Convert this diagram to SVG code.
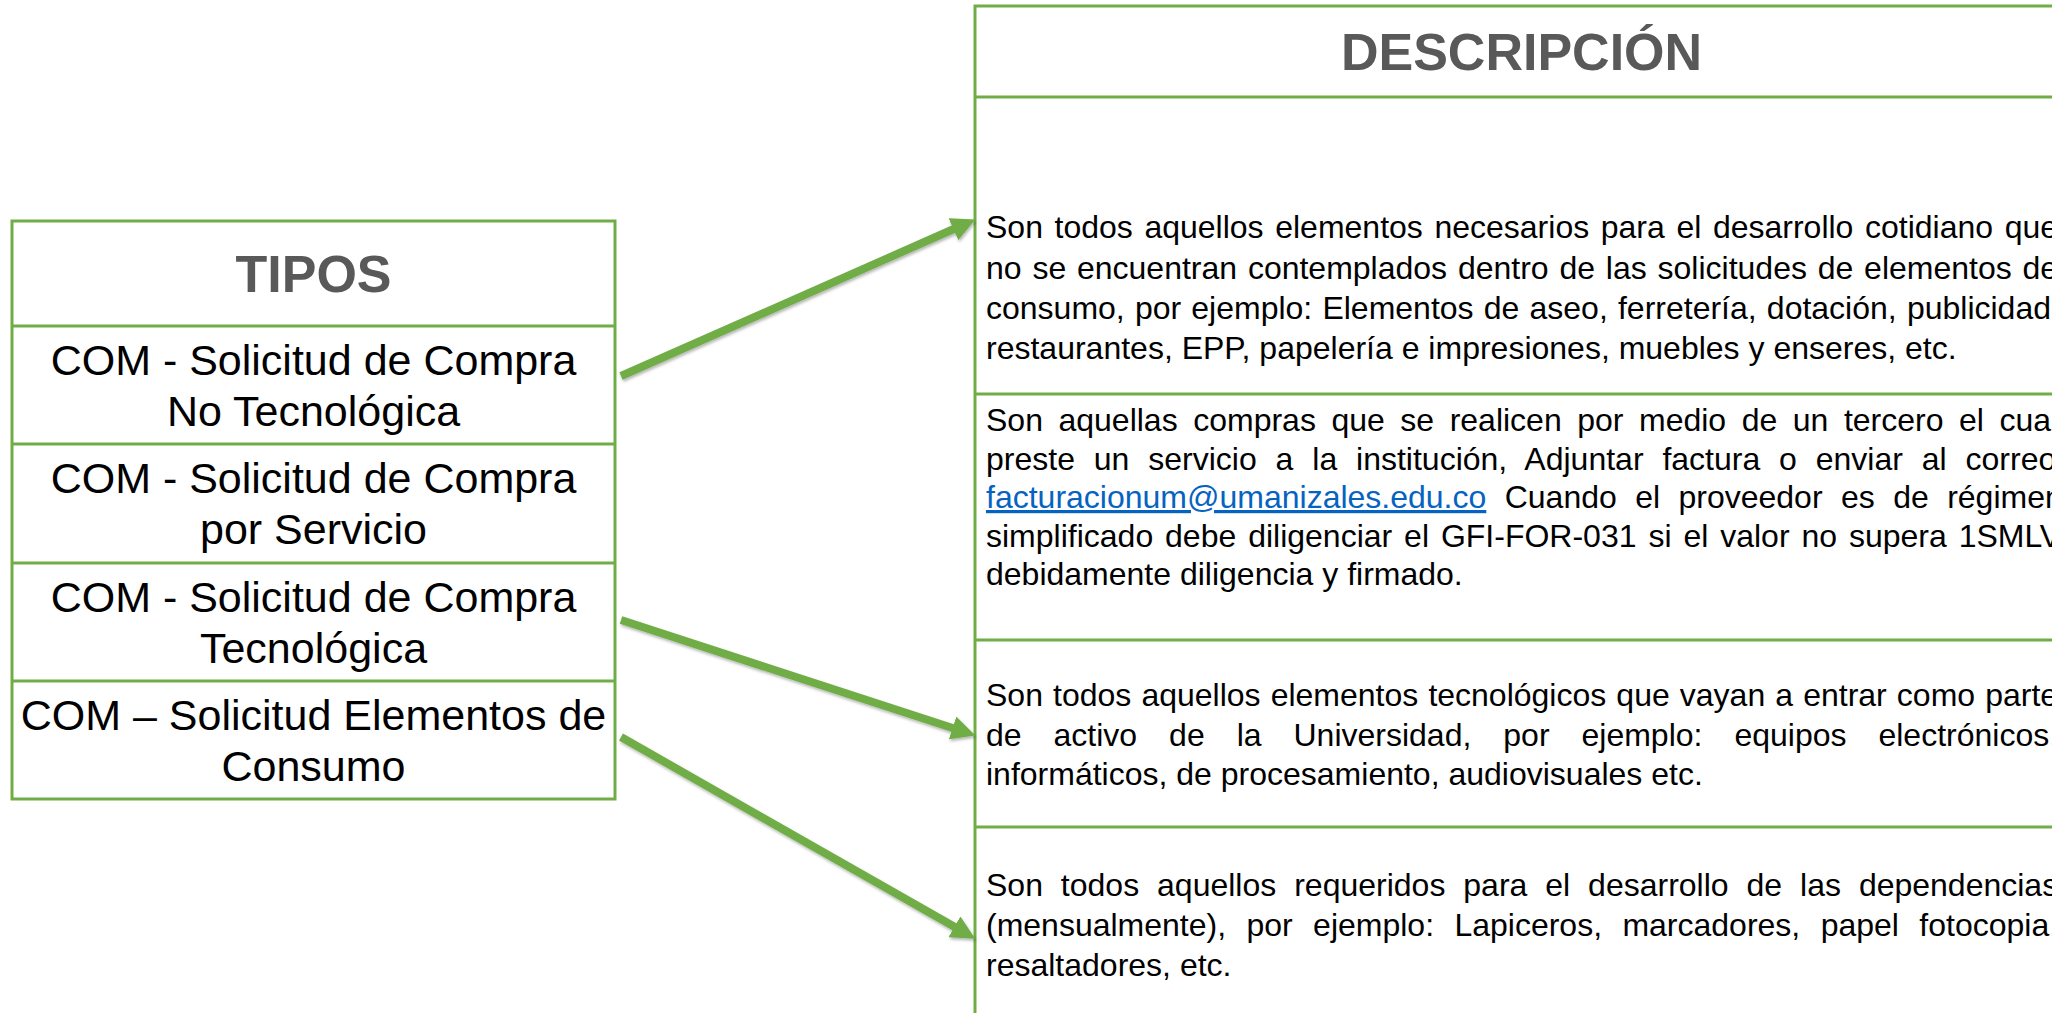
<svg xmlns="http://www.w3.org/2000/svg" width="2052" height="1013" viewBox="0 0 2052 1013">
<style>
.box{fill:none;stroke:#70AD47;stroke-width:3}
.sep{stroke:#70AD47;stroke-width:3}
.hdr{font-family:"Liberation Sans",Arial,sans-serif;font-size:52px;font-weight:bold;fill:#595959;text-anchor:middle}
.cell{font-family:"Liberation Sans",Arial,sans-serif;font-size:43px;fill:#000;text-anchor:middle}
.desc{font-family:"Liberation Sans",Arial,sans-serif;font-size:32px;fill:#000}
.link{fill:#0563C1;text-decoration:underline}
.arrow{stroke:#70AD47;stroke-width:8;fill:none;marker-end:url(#ah);filter:url(#sh)}
</style>
<defs>
<marker id="ah" markerUnits="userSpaceOnUse" markerWidth="24" markerHeight="24" refX="6" refY="11" orient="auto" viewBox="0 0 22 22">
<path d="M0,0 L22,11 L0,22 z" fill="#70AD47"/>
</marker>
<filter id="sh" x="-10%" y="-10%" width="120%" height="130%">
<feDropShadow dx="1" dy="2" stdDeviation="1.5" flood-color="#000" flood-opacity="0.3"/>
</filter>
</defs>
<rect width="2052" height="1013" fill="#ffffff"/>

<g id="tipos">
<rect class="box" x="12" y="221" width="603" height="578"/>
<line class="sep" x1="12" y1="326" x2="615" y2="326"/>
<line class="sep" x1="12" y1="444" x2="615" y2="444"/>
<line class="sep" x1="12" y1="563" x2="615" y2="563"/>
<line class="sep" x1="12" y1="681" x2="615" y2="681"/>
<text class="hdr" x="313.5" y="292">TIPOS</text>
</g>
<g id="tipo1">
<text class="cell" x="313.5" y="375">COM - Solicitud de Compra</text>
<text class="cell" x="313.5" y="426">No Tecnológica</text>
</g>
<g id="tipo2">
<text class="cell" x="313.5" y="493">COM - Solicitud de Compra</text>
<text class="cell" x="313.5" y="544">por Servicio</text>
</g>
<g id="tipo3">
<text class="cell" x="313.5" y="612">COM - Solicitud de Compra</text>
<text class="cell" x="313.5" y="663">Tecnológica</text>
</g>
<g id="tipo4">
<text class="cell" x="313.5" y="730">COM – Solicitud Elementos de</text>
<text class="cell" x="313.5" y="781">Consumo</text>
</g>

<g id="descripcion">
<rect class="box" x="975" y="6" width="1093" height="1030"/>
<line class="sep" x1="975" y1="97" x2="2068" y2="97"/>
<line class="sep" x1="975" y1="394" x2="2068" y2="394"/>
<line class="sep" x1="975" y1="640" x2="2068" y2="640"/>
<line class="sep" x1="975" y1="827" x2="2068" y2="827"/>
<text class="hdr" x="1521.5" y="70">DESCRIPCIÓN</text>
</g>
<g id="desc1">
<text class="desc" x="986" y="238" word-spacing="2.7">Son todos aquellos elementos necesarios para el desarrollo cotidiano que</text>
<text class="desc" x="986" y="278.5" word-spacing="1.9">no se encuentran contemplados dentro de las solicitudes de elementos de</text>
<text class="desc" x="986" y="319" word-spacing="1.27">consumo, por ejemplo: Elementos de aseo, ferretería, dotación, publicidad,</text>
<text class="desc" x="986" y="359">restaurantes, EPP, papelería e impresiones, muebles y enseres, etc.</text>
</g>
<g id="desc2">
<text class="desc" x="986" y="431" word-spacing="6.63">Son aquellas compras que se realicen por medio de un tercero el cual</text>
<text class="desc" x="986" y="469.5" word-spacing="9.98">preste un servicio a la institución, Adjuntar factura o enviar al correo</text>
<text class="desc" x="986" y="508" word-spacing="9.5"><tspan class="link">facturacionum@umanizales.edu.co</tspan> Cuando el proveedor es de régimen</text>
<text class="desc" x="986" y="546.5" word-spacing="3.0">simplificado debe diligenciar el GFI-FOR-031 si el valor no supera 1SMLV</text>
<text class="desc" x="986" y="585">debidamente diligencia y firmado.</text>
</g>
<g id="desc3">
<text class="desc" x="986" y="705.5" word-spacing="1.19">Son todos aquellos elementos tecnológicos que vayan a entrar como parte</text>
<text class="desc" x="986" y="745.5" word-spacing="23.06">de activo de la Universidad, por ejemplo: equipos electrónicos,</text>
<text class="desc" x="986" y="785">informáticos, de procesamiento, audiovisuales etc.</text>
</g>
<g id="desc4">
<text class="desc" x="986" y="896" word-spacing="9.03">Son todos aquellos requeridos para el desarrollo de las dependencias</text>
<text class="desc" x="986" y="936" word-spacing="11.48">(mensualmente), por ejemplo: Lapiceros, marcadores, papel fotocopia,</text>
<text class="desc" x="986" y="976">resaltadores, etc.</text>
</g>

<g id="connectors">
<line class="arrow" x1="621" y1="376" x2="959.4" y2="226.5"/>
<line class="arrow" x1="621" y1="493" x2="958" y2="493"/>
<line class="arrow" x1="621" y1="620" x2="958.8" y2="730"/>
<line class="arrow" x1="621" y1="737" x2="960.1" y2="930.1"/>
</g>
</svg>
